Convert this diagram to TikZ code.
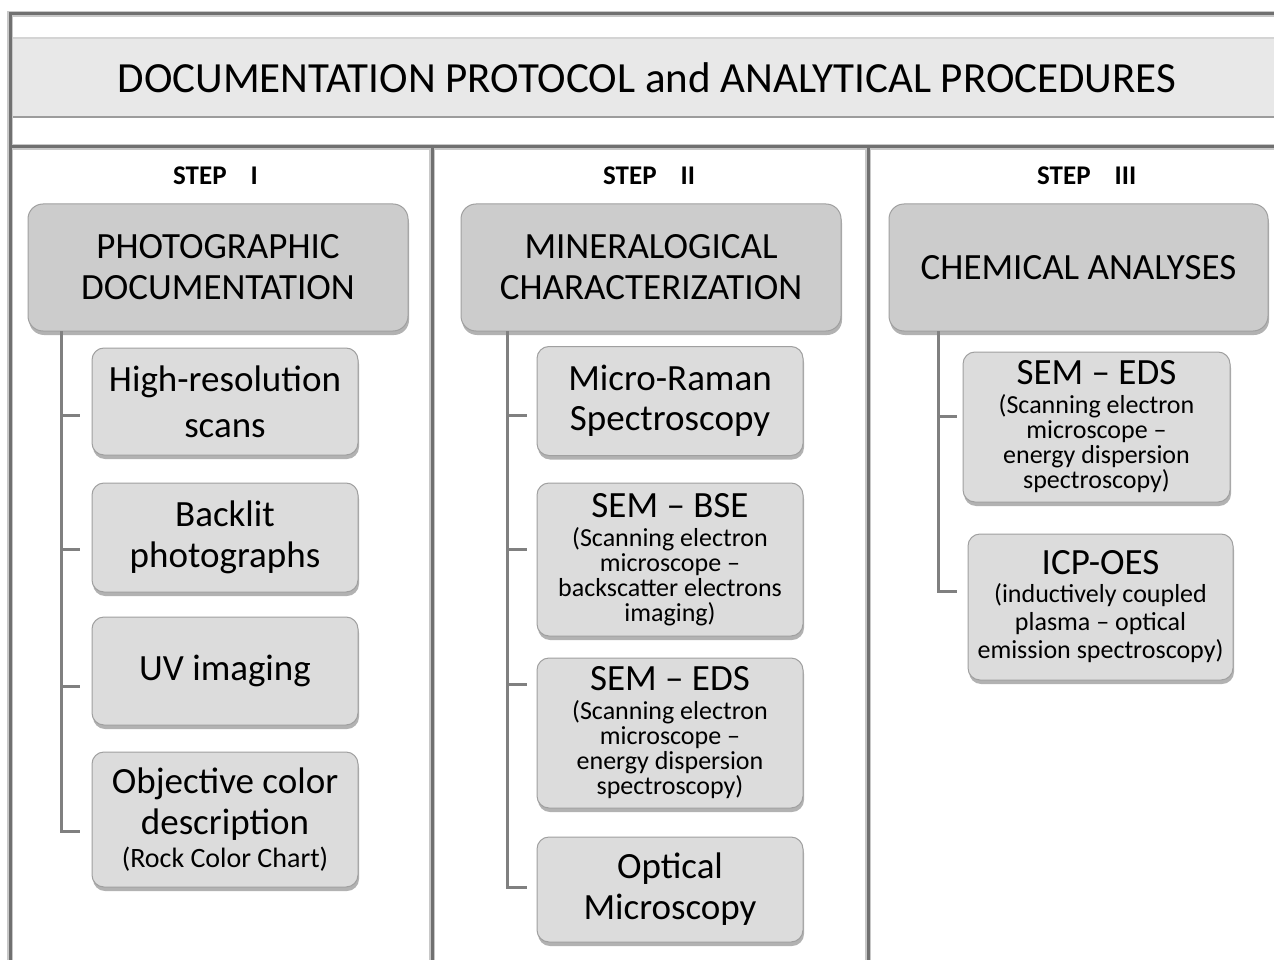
\documentclass[tikz,border=0pt]{standalone}
\usepackage{fontspec}
\setmainfont{Carlito}
\usetikzlibrary{shadows}
\definecolor{framec}{HTML}{707070}
\definecolor{haloc}{HTML}{C8C8C8}
\definecolor{mainfill}{HTML}{CCCCCC}
\definecolor{subfill}{HTML}{DCDCDC}
\definecolor{boxline}{HTML}{A0A0A0}
\definecolor{connc}{HTML}{808080}
\definecolor{bandfill}{HTML}{E8E8E8}
\definecolor{bandtop}{HTML}{D4D4D4}
\definecolor{bandbot}{HTML}{9C9C9C}
\newcommand{\smalltxt}{\fontsize{26}{25}\selectfont}
\begin{document}
\begin{tikzpicture}[x=1pt,y=-1pt,
  halo/.style={haloc, line width=6pt},
  frameline/.style={framec, line width=3pt},
  shade/.style={drop shadow={shadow xshift=1pt, shadow yshift=-4pt, opacity=0.3, fill=black}},
  mainbox/.style={draw=boxline, fill=mainfill, line width=1pt, rounded corners=15pt, shade,
    inner sep=0pt, minimum width=380pt, minimum height=127pt, text width=370pt, align=flush center,
    font=\fontsize{37}{41}\selectfont},
  subbox/.style={draw=boxline, fill=subfill, line width=1pt, rounded corners=12pt, shade,
    inner sep=0pt, minimum width=266pt, text width=262pt, align=flush center,
    font=\fontsize{37}{41}\selectfont},
  conn/.style={connc, line width=3pt},
  steplabel/.style={font=\fontsize{27}{30}\selectfont\bfseries, inner sep=0pt, anchor=west},
]
\useasboundingbox (0,0) rectangle (1274,960);
\fill[white] (0,0) rectangle (1274,960);

% title band
\fill[bandfill] (12,38) rectangle (1274,117);
\draw[bandtop, line width=1.5pt] (12,38) -- (1274,38);
\draw[bandbot, line width=2pt] (12,117) -- (1274,117);
\node[font=\fontsize{43}{48}\selectfont, inner sep=0pt] (title) at (647,78)
  {DOCUMENTATION PROTOCOL and ANALYTICAL PROCEDURES};

% frame
\draw[halo] (10,960) -- (10,14) -- (1274,14);
\draw[halo] (10,147) -- (1274,147);
\draw[halo] (432,147) -- (432,960);
\draw[halo] (868,147) -- (868,960);
\draw[frameline] (10,960) -- (10,14) -- (1274,14);
\draw[frameline] (10,147) -- (1274,147);
\draw[frameline] (432,147) -- (432,960);
\draw[frameline] (868,147) -- (868,960);

% step labels
\node[steplabel] (s1) at (173,176) {STEP\hspace{24pt}I};
\node[steplabel] (s2) at (603,176) {STEP\hspace{24pt}II};
\node[steplabel] (s3) at (1037,176) {STEP\hspace{24pt}III};

% main boxes
\node[mainbox] (m1) at (218,267.5) {PHOTOGRAPHIC\\DOCUMENTATION};
\node[mainbox] (m2) at (651,267.5) {MINERALOGICAL\\CHARACTERIZATION};
\node[mainbox, minimum width=379pt] (m3) at (1078.5,267.5) {CHEMICAL ANALYSES};

% step I sub boxes
\node[subbox, minimum height=107pt, font=\fontsize{37}{46}\selectfont] (hr) at (225,401.5) {High-resolution\\scans};
\node[subbox, minimum height=109pt] (bl) at (225,537.5) {Backlit\\photographs};
\node[subbox, minimum height=108pt] (uv) at (225,671) {UV imaging};
\node[subbox, minimum height=135pt] (oc) at (225,819.5)
  {Objective color\\description\par{\fontsize{28}{33}\selectfont (Rock Color Chart)\par}};

% step II sub boxes
\node[subbox, minimum height=109pt, font=\fontsize{37}{40}\selectfont] (mr) at (670,401) {Micro-Raman\\Spectroscopy};
\node[subbox, minimum height=153pt] (bse) at (670,559.5)
  {SEM – BSE\par\vspace{4pt}{\smalltxt (Scanning electron\\microscope –\\backscatter electrons\\imaging)\par}};
\node[subbox, minimum height=150pt] (eds2) at (670,733)
  {SEM – EDS\par\vspace{4pt}{\smalltxt (Scanning electron\\microscope –\\energy dispersion\\spectroscopy)\par}};
\node[subbox, minimum height=105pt] (om) at (670,889.5) {Optical\\Microscopy};

% step III sub boxes
\node[subbox, minimum width=267pt, minimum height=150pt] (eds3) at (1096.5,427)
  {SEM – EDS\par\vspace{4pt}{\smalltxt (Scanning electron\\microscope –\\energy dispersion\\spectroscopy)\par}};
\node[subbox, minimum width=265pt, minimum height=146pt] (icp) at (1100.5,607)
  {ICP-OES\par{\fontsize{26}{28}\selectfont (inductively coupled\\plasma – optical\\emission spectroscopy)\par}};

% connectors step I
\coordinate (j1) at (61,331);
\coordinate (t1a) at (80,415);
\coordinate (t1b) at (80,549);
\coordinate (t1c) at (80,686);
\coordinate (t1d) at (80,831);
\draw[conn] (j1) |- (t1d);
\draw[conn] (j1 |- t1a) -- (t1a);
\draw[conn] (j1 |- t1b) -- (t1b);
\draw[conn] (j1 |- t1c) -- (t1c);

% connectors step II
\coordinate (j2) at (507,331);
\coordinate (t2a) at (527,415);
\coordinate (t2b) at (527,549);
\coordinate (t2c) at (527,684);
\coordinate (t2d) at (527,887);
\draw[conn] (j2) |- (t2d);
\draw[conn] (j2 |- t2a) -- (t2a);
\draw[conn] (j2 |- t2b) -- (t2b);
\draw[conn] (j2 |- t2c) -- (t2c);

% connectors step III
\coordinate (j3) at (938,331);
\coordinate (t3a) at (957,416);
\coordinate (t3b) at (957,591);
\draw[conn] (j3) |- (t3b);
\draw[conn] (j3 |- t3a) -- (t3a);
\end{tikzpicture}
\end{document}
